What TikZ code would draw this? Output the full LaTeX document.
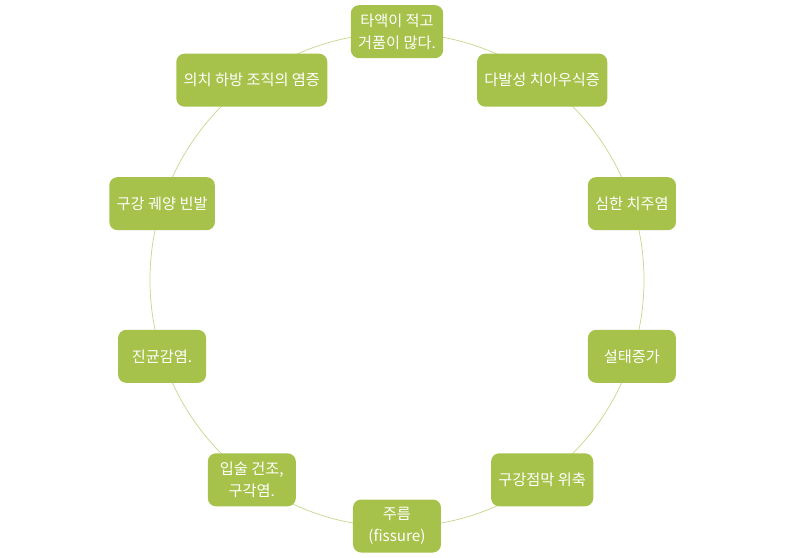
\documentclass[tikz,border=0pt]{standalone}
\usepackage{fontspec}
\setmainfont{Noto Sans CJK KR}
\usetikzlibrary{positioning}
\definecolor{sgrn} {RGB}{166,194, 74}
\definecolor{lgrn} {RGB}{196,214,140}
\tikzset{
  % Green symptom box
  SB/.style={rectangle,rounded corners=7pt,draw=none,fill=sgrn,
             text=white,minimum width=2.64cm,minimum height=1.59cm,
             align=center,font=\fontsize{13}{19}\selectfont,
             inner xsep=0.22cm},
  % Thin ring behind the boxes
  Ring/.style={draw=lgrn,line width=0.6pt},
}
\begin{document}
\begin{tikzpicture}
      \useasboundingbox (-11.91,8.40) rectangle (11.67,-8.31);
      \coordinate (c) at (0,0);
      \draw[Ring] (c) circle (7.41);
      \node[SB] at (90:7.45) (s1) {타액이 적고\\거품이 많다.};
      \node[SB] at (54:7.41) (s2) {다발성 치아우식증};
      \node[SB] at (18:7.41) (s3) {심한 치주염};
      \node[SB] at (-18:7.41) (s4) {설태증가};
      \node[SB] at (-54:7.41) (s5) {구강점막 위축};
      \node[SB] at (-90:7.38) (s6) {주름\\(fissure)};
      \node[SB] at (-126:7.41) (s7) {입술 건조,\\구각염.};
      \node[SB] at (-162:7.41) (s8) {진균감염.};
      \node[SB] at (162:7.41) (s9) {구강 궤양 빈발};
      \node[SB] at (126:7.41) (s10) {의치 하방 조직의 염증};
\end{tikzpicture}
\end{document}
